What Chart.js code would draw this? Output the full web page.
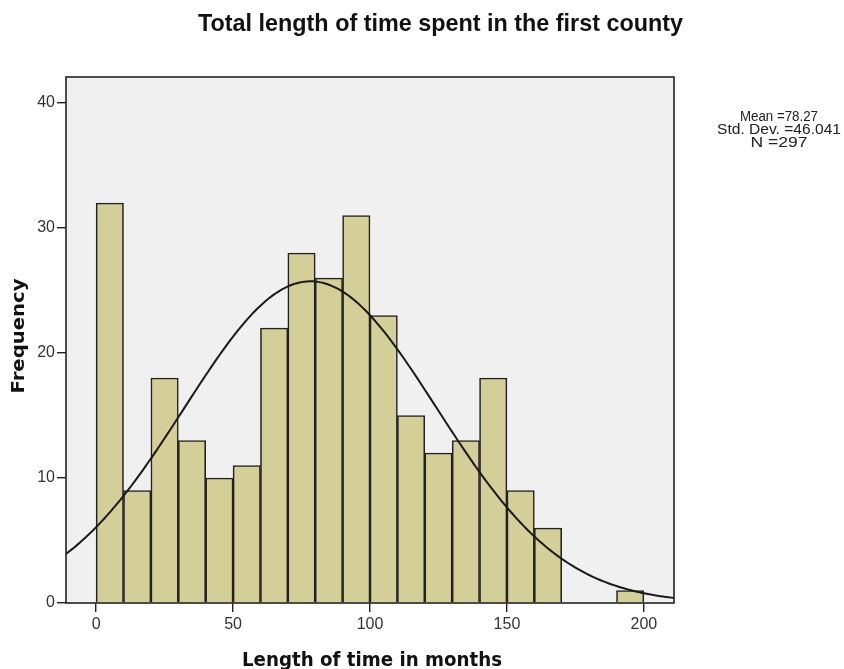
<!DOCTYPE html>
<html>
<head>
<meta charset="utf-8">
<style>
  html, body { margin: 0; padding: 0; background: #ffffff; }
  canvas { display: block; }
</style>
<script src="https://cdn.jsdelivr.net/npm/chart.js@4.4.1/dist/chart.umd.min.js"></script>
</head>
<body>
<canvas id="hist" width="844" height="669"></canvas>
<script>
// Histogram bins (lower edge of each 10-month bin) and their counts
const binLower = [0, 10, 20, 30, 40, 50, 60, 70, 80, 90, 100, 110, 120, 130, 140, 150, 160, 170, 180, 190];
const binCounts = [32, 9, 18, 13, 10, 11, 22, 28, 26, 31, 23, 15, 12, 13, 18, 9, 6, 0, 0, 1];
const binWidth = 10;

// Summary statistics shown beside the plot
const meanVal = 78.27;
const sdVal = 46.041;
const nVal = 297;
const statLines = ['Mean =78.27', 'Std. Dev. =46.041', 'N =297'];

// Axis tick values
const xTickValues = [0, 50, 100, 150, 200];
const yTickValues = [0, 10, 20, 30, 40];

const titleText = 'Total length of time spent in the first county';
const xTitleText = 'Length of time in months';
const yTitleText = 'Frequency';

const X_MIN = -11, X_MAX = 211, Y_MIN = 0, Y_MAX = 42.08;

// Bars placed at the centre of each bin
const barPoints = binLower.map((lo, i) => ({ x: lo + binWidth / 2, y: binCounts[i] }));

// Fitted normal curve scaled to counts (N * bin width * density)
const curvePoints = [];
for (let x = X_MIN; x <= X_MAX; x += 1) {
  const z = (x - meanVal) / sdVal;
  const dens = Math.exp(-0.5 * z * z) / (sdVal * Math.sqrt(2 * Math.PI));
  curvePoints.push({ x: x, y: nVal * binWidth * dens });
}

const TICK_FONT = { family: '"Liberation Sans", Arial, sans-serif', size: 16 };

// Draw text centred at (cx, baseline), squeezed/stretched to a given width
function drawFitted(ctx, text, cx, base, font, width, angle, color) {
  ctx.save();
  ctx.font = font;
  ctx.fillStyle = color || '#111';
  ctx.textAlign = 'center';
  ctx.textBaseline = 'alphabetic';
  const w = ctx.measureText(text).width;
  ctx.translate(cx, base);
  if (angle) ctx.rotate(angle);
  ctx.scale(width / w, 1);
  ctx.fillText(text, 0, 0);
  ctx.restore();
}

const framePlugin = {
  id: 'frame',
  beforeDraw(chart) {
    const { ctx, chartArea: a } = chart;
    ctx.save();
    ctx.fillStyle = '#ffffff';
    ctx.fillRect(0, 0, chart.width, chart.height);
    ctx.fillStyle = '#f0f0f0';
    ctx.fillRect(a.left, a.top, a.right - a.left, a.bottom - a.top);
    ctx.restore();
  },
  afterDraw(chart) {
    const { ctx, chartArea: a } = chart;
    ctx.save();
    ctx.strokeStyle = '#222222';
    ctx.lineWidth = 1.6;
    ctx.strokeRect(a.left, a.top, a.right - a.left, a.bottom - a.top);
    ctx.restore();

    drawFitted(ctx, titleText, 440.5, 31, 'bold 24px "Liberation Sans", Arial, sans-serif', 485, 0, '#111');
    drawFitted(ctx, xTitleText, 372, 666, 'bold 19px "DejaVu Sans", sans-serif', 260, 0, '#111');
    drawFitted(ctx, yTitleText, 23.5, 336, 'bold 17px "DejaVu Sans", sans-serif', 115, -Math.PI / 2, '#111');

    const statFont = '14px "Liberation Sans", Arial, sans-serif';
    const statWidths = [78, 124, 57];
    const statBase = [121, 134, 147];
    statLines.forEach((t, i) => drawFitted(ctx, t, 779, statBase[i], statFont, statWidths[i], 0, '#222'));
  }
};

new Chart(document.getElementById('hist'), {
  type: 'bar',
  data: {
    datasets: [
      {
        type: 'line',
        data: curvePoints,
        borderColor: '#1a1a1a',
        borderWidth: 2,
        pointRadius: 0,
        tension: 0,
        fill: false,
        order: 0
      },
      {
        type: 'bar',
        data: barPoints,
        backgroundColor: '#d4cf98',
        borderColor: '#222222',
        borderWidth: 1.6,
        borderSkipped: 'start',
        barPercentage: 1,
        categoryPercentage: 1,
        order: 1
      }
    ]
  },
  options: {
    responsive: false,
    devicePixelRatio: 1,
    animation: false,
    layout: { padding: { top: 77, right: 170, left: 0, bottom: 0 } },
    plugins: { legend: { display: false }, tooltip: { enabled: false }, title: { display: false } },
    scales: {
      x: {
        type: 'linear',
        offset: false,
        min: X_MIN,
        max: X_MAX,
        afterBuildTicks(s) { s.ticks = xTickValues.map(v => ({ value: v })); },
        afterFit(s) { s.height = 66; },
        ticks: { font: TICK_FONT, color: '#333', padding: 3, maxRotation: 0, autoSkip: false, callback: v => String(v) },
        grid: { offset: false, drawOnChartArea: false, drawTicks: true, tickLength: 9, color: '#222222', lineWidth: 1.4 },
        border: { display: false }
      },
      y: {
        type: 'linear',
        min: Y_MIN,
        max: Y_MAX,
        afterBuildTicks(s) { s.ticks = yTickValues.map(v => ({ value: v })); },
        afterFit(s) { s.width = 66; },
        ticks: { font: TICK_FONT, color: '#333', padding: 2, callback: v => String(v) },
        grid: { drawOnChartArea: false, drawTicks: true, tickLength: 9, color: '#222222', lineWidth: 1.4 },
        border: { display: false }
      }
    }
  },
  plugins: [framePlugin]
});
</script>
</body>
</html>
